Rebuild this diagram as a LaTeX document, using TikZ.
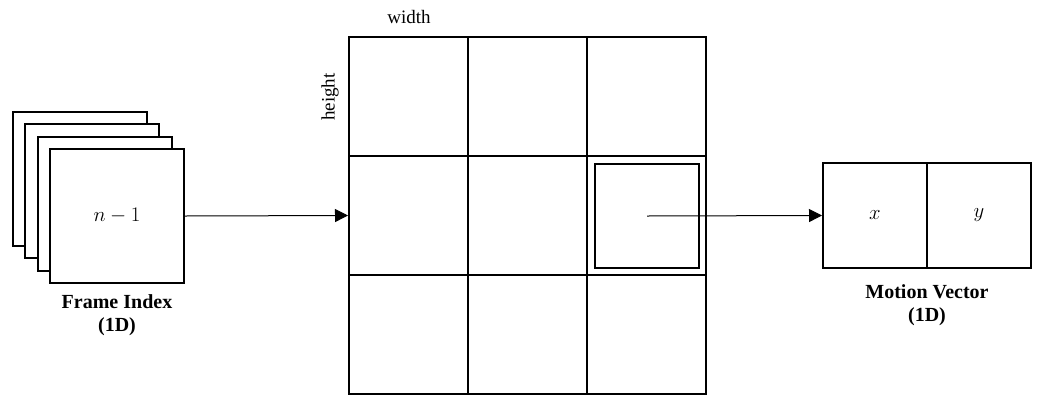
\documentclass[tikz,border=0pt]{standalone}
\usepackage{fontspec}
\setmainfont{Liberation Serif}
\usetikzlibrary{arrows.meta}
\begin{document}
\begin{tikzpicture}[x=1pt,y=-1pt,
  frame/.style={draw,line width=2pt,fill=white,minimum width=134pt,minimum height=134pt,inner sep=0pt},
  cell/.style={draw,line width=2pt,minimum width=119pt,minimum height=119pt,inner sep=0pt},
  vcell/.style={draw,line width=2pt,minimum width=104pt,minimum height=105pt,inner sep=0pt,font=\fontsize{20}{24}\selectfont},
  lbl/.style={font=\fontsize{20}{23}\selectfont\bfseries,align=center,inner sep=0pt},
  plain/.style={font=\fontsize{19}{23}\selectfont,inner sep=0pt},
  conn/.style={line width=1pt,-{Triangle[length=13pt,width=13pt]}}]
\useasboundingbox (0,0) rectangle (1040,394);
% stacked frames
\node[frame] (f3) at (79.5,178.5) {};
\node[frame] (f2) at (92,191) {};
\node[frame] (f1) at (104.5,203.5) {};
\node[frame,font=\fontsize{20}{24}\selectfont] (f0) at (117,216) {$n-1$};
\node[lbl] (fl) at (117,315) {Frame Index\\(1D)};
% grid
\foreach \r/\y in {0/96.5,1/215.5,2/334.5}{
  \foreach \c/\x in {0/408.5,1/527.5,2/646.5}{
    \node[cell] (c\r\c) at (\x,\y) {};
  }
}
\node[draw,line width=2pt,minimum size=104pt,inner sep=0pt] (sel) at (647,216) {};
\node[plain] (w) at (409,17) {width};
\node[plain,rotate=90] (h) at (330,97) {height};
% motion vector
\node[vcell] (mx) at (875,215.5) {$x$};
\node[vcell] (my) at (979,215.5) {$y$};
\node[lbl] (ml) at (927,305) {Motion Vector\\(1D)};
% connectors
\draw[conn] (f0.east) -- (c10.west);
\draw[conn] (sel.center) -- (mx.west);
\end{tikzpicture}
\end{document}
